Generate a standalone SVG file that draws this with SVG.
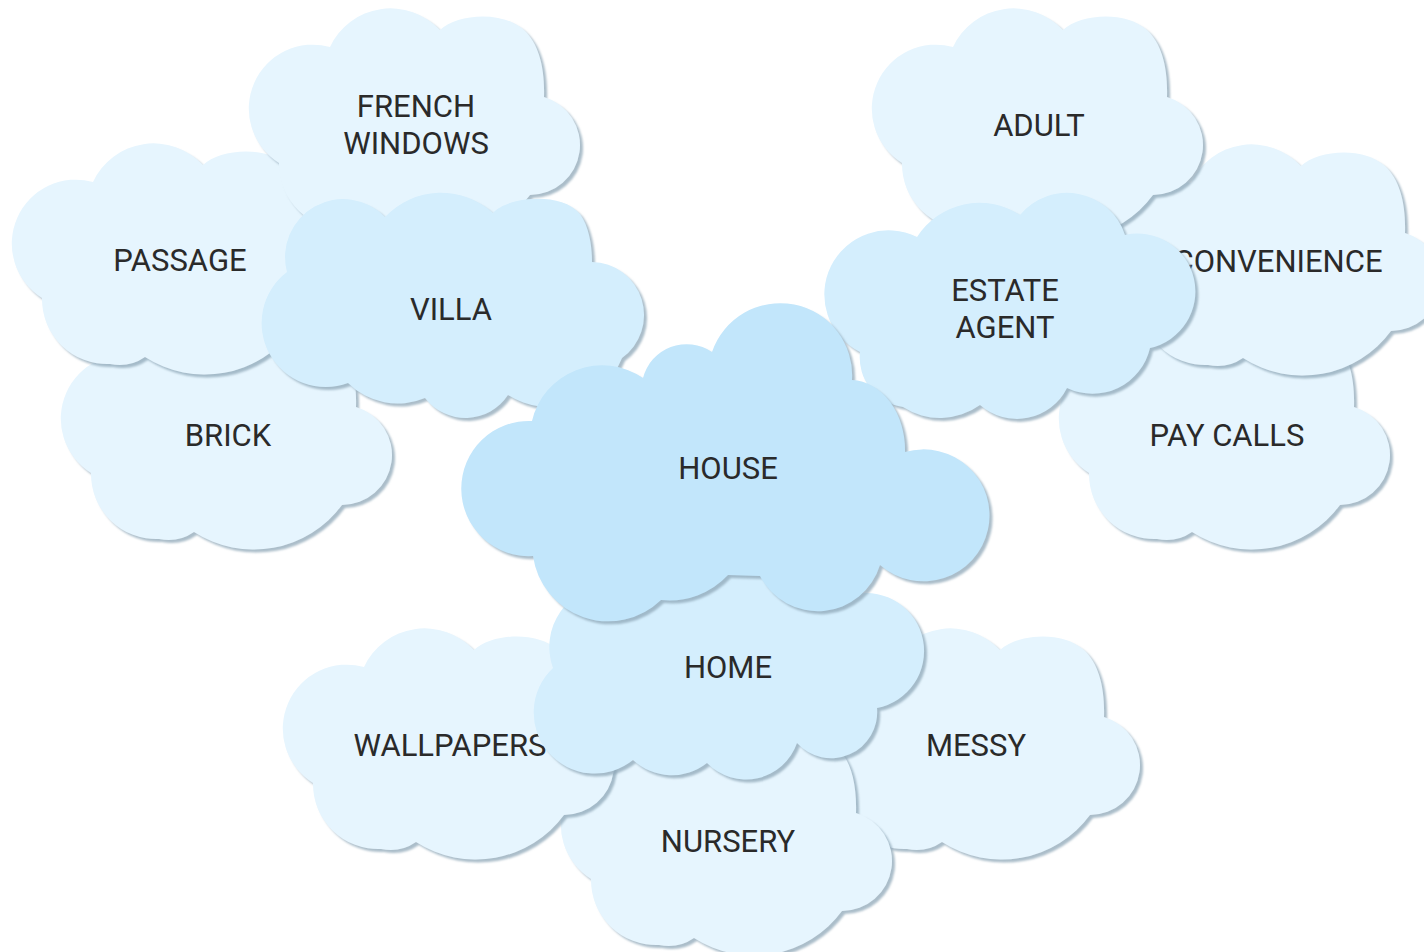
<svg xmlns="http://www.w3.org/2000/svg" xmlns:xlink="http://www.w3.org/1999/xlink" width="1424" height="952" viewBox="0 0 1424 952">
<style>
.t { font-family: Roboto, "Liberation Sans", sans-serif; font-size: 31px; fill: #2a2a2a; text-anchor: middle; }
.c3 { fill: #e6f5fe; filter: url(#sh); }
.c2 { fill: #d4eefd; filter: url(#sh); }
.c1 { fill: #c2e6fb; filter: url(#sh); }
</style>
<defs>
<filter id="sh" x="-10%" y="-10%" width="125%" height="125%">
<feDropShadow dx="3" dy="3" stdDeviation="1.2" flood-color="#8fa7b8" flood-opacity="0.75"/>
</filter>
<path id="cloud-outer" d="M76,39 A67,67 0 0 1 186,22 C203,6 248,2 270,22 C285,36 291,60 290,89 A50,50 0 0 1 276,187 A110,110 0 0 1 128,214 A45,45 0 0 1 93,221 A65,65 0 0 1 25,155 A64,64 0 0 1 76,39 Z"/>
</defs>
<rect width="1424" height="952" fill="#ffffff"/>
<g id="connectors"></g>

<g id="node-brick"><use href="#cloud-outer" class="c3" transform="translate(66,318)"/><text class="t" x="228" y="446">BRICK</text></g>
<g id="node-passage"><use href="#cloud-outer" class="c3" transform="translate(17,143)"/><text class="t" x="180" y="271">PASSAGE</text></g>
<g id="node-french-windows"><use href="#cloud-outer" class="c3" transform="translate(254,8)"/><text class="t" x="416" y="117">FRENCH</text><text class="t" x="416" y="154">WINDOWS</text></g>
<g id="node-pay-calls"><use href="#cloud-outer" class="c3" transform="translate(1064,318)"/><text class="t" x="1227" y="446">PAY CALLS</text></g>
<g id="node-convenience"><use href="#cloud-outer" class="c3" transform="translate(1115,144)"/><text class="t" x="1278" y="272">CONVENIENCE</text></g>
<g id="node-adult"><use href="#cloud-outer" class="c3" transform="translate(877,8)"/><text class="t" x="1039" y="136">ADULT</text></g>
<g id="node-messy"><use href="#cloud-outer" class="c3" transform="translate(814,628)"/><text class="t" x="976" y="756">MESSY</text></g>
<g id="node-nursery"><use href="#cloud-outer" class="c3" transform="translate(566,724)"/><text class="t" x="728" y="852">NURSERY</text></g>
<g id="node-wallpapers"><use href="#cloud-outer" class="c3" transform="translate(288,628)"/><text class="t" x="450" y="756">WALLPAPERS</text></g>

<g id="node-villa"><path class="c2" d="M287,272 A58,58 0 0 1 385,217 A77,77 0 0 1 493,213 C505,198 560,190 580,214 C590,228 592,248 592,262 A53,53 0 0 1 622,358 A78,78 0 0 1 508,395 A51,51 0 0 1 425,398 A70,70 0 0 1 348,383 A64,64 0 0 1 287,272 Z"/><text class="t" x="451" y="320">VILLA</text></g>
<g id="node-estate-agent"><path class="c2" d="M917,237 A74,74 0 0 1 1020,215 A61,61 0 0 1 1125,235 A57,57 0 0 1 1150,348 A59,59 0 0 1 1067,388 A56,56 0 0 1 980,405 A68,68 0 0 1 903,407 A50,50 0 0 1 860,352 A64,64 0 0 1 917,237 Z"/><text class="t" x="1005" y="301">ESTATE</text><text class="t" x="1005" y="338">AGENT</text></g>
<g id="node-home"><path class="c2" d="M553,668 A62,62 0 0 1 610,585 A75,75 0 0 1 730,565 A70,70 0 0 1 855,594 A57,57 0 0 1 877,708 A46,46 0 0 1 797,743 A54,54 0 0 1 707,763 A57,57 0 0 1 633,760 A61,61 0 0 1 553,668 Z"/><text class="t" x="728" y="678">HOME</text></g>

<g id="node-house"><path class="c1" d="M532,421 A72,72 0 0 1 643,378 A45,45 0 0 1 712,352 A72,72 0 0 1 852,380 A55,70 0 0 1 905,452 A66,66 0 1 1 880,565 A65,65 0 0 1 760,576 L728,575 A80,80 0 0 1 661,600 A76,76 0 0 1 533,556 A67.6,67.6 0 1 1 532,421 Z"/><text class="t" x="728" y="479">HOUSE</text></g>
</svg>
